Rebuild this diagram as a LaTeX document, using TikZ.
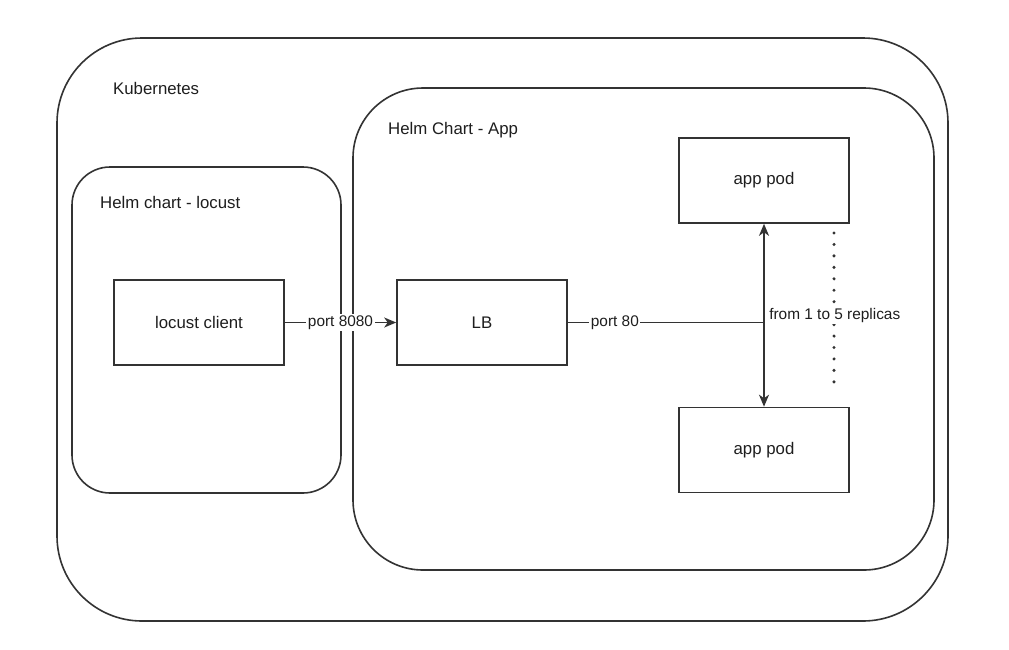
\documentclass[tikz,border=0pt]{standalone}
\usepackage{fontspec}
\setmainfont{Liberation Sans}
\usetikzlibrary{arrows.meta}
\definecolor{ln}{HTML}{333333}
\definecolor{tx}{HTML}{1E1E1E}
\begin{document}
\begin{tikzpicture}[x=1pt,y=-1pt,
  vfont/.style={font=\fontsize{16.8}{20}\selectfont, text=tx},
  efont/.style={font=\fontsize{15.4}{18}\selectfont, text=tx},
  container/.style={draw=ln, line width=1.6pt, inner sep=0pt},
  podbox/.style={draw=ln, line width=1.6pt, inner sep=0pt, minimum width=170pt, minimum height=85pt, vfont},
  title/.style={vfont, anchor=west, inner sep=0pt},
  conn/.style={draw=ln, line width=1.6pt},
  tip/.style={-{Stealth[length=12pt,width=10pt,inset=3.5pt]}},
  elabel/.style={efont, fill=white, inner sep=1.5pt}
]
\useasboundingbox (0,0) rectangle (1009,649);
\fill[white] (0,0) rectangle (1009,649);

% containers
\node[container, rounded corners=85pt, minimum width=891pt, minimum height=583pt] (k8s) at (502.5,329.5) {};
\node[container, rounded corners=38pt, minimum width=269pt, minimum height=326pt] (locustchart) at (206.5,330) {};
\node[container, rounded corners=70pt, minimum width=581pt, minimum height=482pt] (appchart) at (643.5,329) {};

\node[title] (k8slabel) at (113,88) {Kubernetes};
\node[title] (locustlabel) at (100,202) {Helm chart - locust};
\node[title] (applabel) at (388,130) {Helm Chart - App};

% boxes
\node[podbox] (client) at (199,322.5) {locust client};
\node[podbox] (lb) at (482,322.5) {LB};
\node[podbox] (pod1) at (764,180.5) {app pod};
\node[podbox] (pod2) at (764,450) {app pod};

% dotted replicas line
\coordinate (dtop) at (834,233);
\coordinate (dbot) at (834,393);
\draw[ln, line width=3.4pt, line cap=round, dash pattern=on 0pt off 11.45pt] (dtop) -- (dbot);

% connectors
\draw[conn, tip] (client.east) -- node[elabel] {port 8080} (lb.west);
\coordinate (j) at (lb.east -| pod1.south);
\draw[conn] (lb.east) -- node[elabel, pos=0.24] {port 80} (j);
\draw[conn, {Stealth[length=12pt,width=10pt,inset=3.5pt]}-{Stealth[length=12pt,width=10pt,inset=3.5pt]}] (pod1.south) -- node[elabel, anchor=west, xshift=3pt, pos=0.5] {from 1 to 5 replicas} (pod2.north);
\end{tikzpicture}
\end{document}
